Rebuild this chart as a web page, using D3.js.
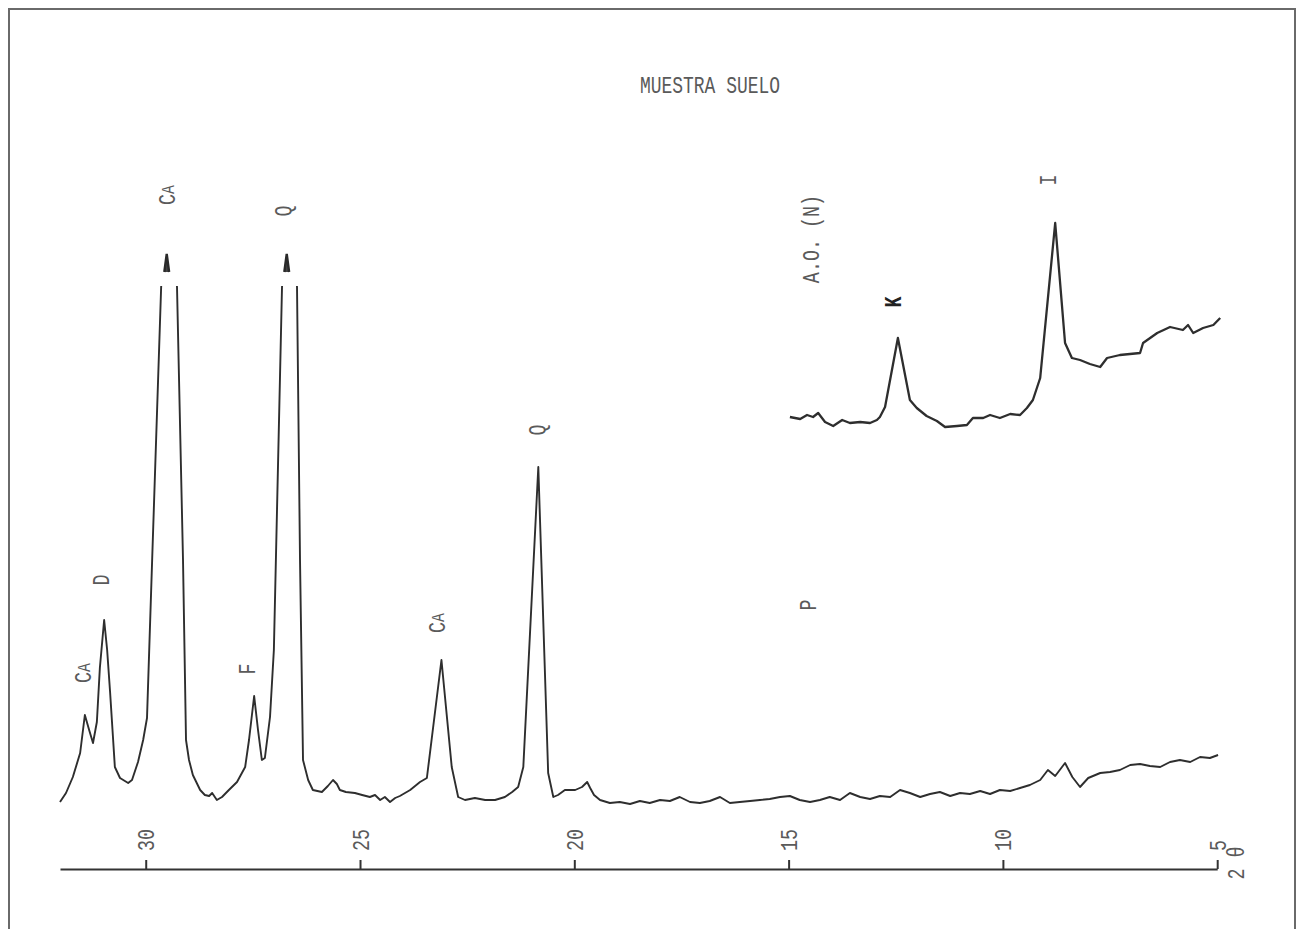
<!DOCTYPE html>
<html><head><meta charset="utf-8">
<script src="https://cdn.jsdelivr.net/npm/d3@7"></script>
<style>body{margin:0;background:#fff}svg{display:block}</style>
</head><body><svg id="c" width="1301" height="929"></svg>
<script>
// ---- data (2-theta in degrees, intensity in arbitrary counts) ----
const mainTheta = [32.00,31.86,31.70,31.53,31.42,31.32,31.23,31.14,31.07,30.97,30.90,30.83,30.76,30.72,30.60,30.41,30.32,30.18,30.06,29.97,29.85,29.64,29.46,29.27,29.13,29.06,28.99,28.90,28.73,28.62,28.52,28.45,28.34,28.22,28.06,27.87,27.68,27.59,27.47,27.38,27.29,27.22,27.10,27.01,26.82,26.66,26.47,26.40,26.33,26.21,26.10,25.89,25.75,25.63,25.54,25.47,25.33,25.12,24.95,24.77,24.65,24.53,24.42,24.30,24.18,24.07,23.83,23.60,23.44,23.10,22.86,22.71,22.55,22.32,22.08,21.85,21.62,21.45,21.31,21.19,20.84,20.61,20.49,20.38,20.22,19.98,19.82,19.70,19.63,19.54,19.40,
19.17,18.94,18.70,18.47,18.24,18.00,17.77,17.54,17.30,17.07,16.84,16.60,16.37,16.14,15.90,15.67,15.44,15.20,14.97,14.74,14.50,14.27,14.04,13.80,13.57,13.33,13.10,12.87,12.63,12.40,12.17,11.93,11.70,11.47,11.23,11.00,10.77,10.53,10.30,10.07,9.83,9.60,9.37,9.13,8.95,8.78,8.55,8.38,8.20,8.01,7.73,7.50,7.27,7.03,6.80,6.57,6.33,6.10,5.87,5.63,5.40,5.17,4.98];
const mainCounts = [67,76,92,116,154,139,126,147,201,249,219,176,129,102,91,86,89,107,129,151,309,582,680,582,309,129,109,94,79,74,73,76,69,72,79,87,102,129,173,139,109,111,152,219,582,680,582,309,109,89,79,77,83,89,85,79,77,76,74,72,74,69,72,67,71,73,79,87,91,209,102,72,69,71,69,69,72,77,82,102,402,96,72,74,79,79,82,87,81,74,69,
66,67,65,68,66,69,68,72,67,66,68,72,66,67,68,69,70,72,73,69,67,69,72,69,76,72,70,73,72,79,76,72,75,77,73,76,75,78,75,79,78,81,84,89,99,93,106,92,82,91,96,97,99,104,105,103,102,107,109,107,112,111,114];

const insetTheta = [14.97,14.73,14.57,14.43,14.31,14.15,13.96,13.75,13.57,13.33,13.10,12.94,12.87,12.75,12.45,12.17,12.01,11.78,11.54,11.35,11.07,10.84,10.70,10.46,10.30,10.07,9.83,9.60,9.44,9.30,9.13,8.78,8.55,8.39,8.20,7.97,7.73,7.57,7.27,6.80,6.73,6.40,6.10,5.80,5.68,5.56,5.33,5.09,4.93];
const insetCounts = [452,450,454,452,456,447,443,449,446,447,446,449,452,462,531,469,461,453,448,442,443,444,451,451,454,451,455,454,461,469,491,646,526,511,509,505,502,511,514,516,526,536,542,539,544,536,541,544,551];

const tickValues = [30,25,20,15,10,5];
const breakTheta = [29.51,26.71];           // peaks running off scale
const labelText  = ["CA","D","CA","Q","F","CA","Q","P","A.O. (N)","K","I"];
const labelTheta = [31.42,31.00,29.48,26.75,27.59,23.18,20.82,14.50,14.43,12.52,8.90];
const labelLevel = [196,289,674,658,200,246,439,264,630,567,689];
const title = "MUESTRA SUELO";

// ---- drawing ----
const W = 1301, H = 929;
const svg = d3.select('#c');
const x = d3.scaleLinear().domain([32,5]).range([60,1217.2]);
const y = d3.scaleLinear().domain([0,860]).range([869,9]);
const FONT = "'Liberation Mono','DejaVu Sans Mono',monospace";
const TXT = "#5a5a5a";

svg.append('rect').attr('x',9).attr('y',9).attr('width',1286).attr('height',980)
  .attr('fill','none').attr('stroke','#6a6a6a').attr('stroke-width',2);

const clipTop = y(583);
svg.append('defs').append('clipPath').attr('id','clip')
  .append('rect').attr('x',0).attr('y',clipTop).attr('width',W).attr('height',H-clipTop);

const line = d3.line().x(d=>x(d[0])).y(d=>y(d[1]));
svg.append('path').datum(d3.zip(mainTheta,mainCounts))
  .attr('d',line).attr('clip-path','url(#clip)')
  .attr('fill','none').attr('stroke','#2e2e2e').attr('stroke-width',1.9).attr('stroke-linejoin','round');
svg.append('path').datum(d3.zip(insetTheta,insetCounts))
  .attr('d',line)
  .attr('fill','none').attr('stroke','#2e2e2e').attr('stroke-width',2.3).attr('stroke-linejoin','round');

// break marks above clipped peaks
svg.selectAll('path.brk').data(breakTheta).join('path').attr('class','brk')
  .attr('d',d=>{const cx=x(d), b=clipTop-14, t=clipTop-32; return `M${cx-2.4},${b}L${cx},${t}L${cx+2.4},${b}`;})
  .attr('fill','#444').attr('stroke','#2a2a2a').attr('stroke-width',2.4).attr('stroke-linejoin','miter');

// axis
const ax = svg.append('g').attr('transform',`translate(0,${y(0)})`)
  .call(d3.axisTop(x).tickValues(tickValues).tickSize(9).tickSizeOuter(0).tickFormat(d3.format('d')));
ax.select('.domain').attr('stroke','#333').attr('stroke-width',2);
ax.selectAll('.tick line').attr('stroke','#333').attr('stroke-width',2);
ax.selectAll('.tick text')
  .attr('font-family',FONT).attr('font-size',23).attr('fill',TXT)
  .attr('transform','rotate(-90) scale(0.8,1)')
  .attr('x',22.5).attr('y',0).attr('dy','0.35em').attr('text-anchor','start');

function rotLabel(txt, cx, cy, opts={}) {
  const g = svg.append('g').attr('transform',`translate(${cx},${cy}) rotate(-90) scale(0.8,1)`);
  const t = g.append('text').attr('text-anchor','middle').attr('dominant-baseline','central')
    .attr('font-family',FONT).attr('font-size',opts.size||23).attr('fill',opts.fill||TXT)
    .attr('font-weight',opts.weight||'normal');
  if (txt === 'CA') {
    t.append('tspan').text('C');
    t.append('tspan').attr('font-size',(opts.size||23)*0.8).text('A');
  } else t.text(txt);
}
labelText.forEach((t,i)=>{
  const o = t==='K' ? {fill:'#222',weight:'bold'} : {};
  rotLabel(t, x(labelTheta[i]), y(labelLevel[i]), o);
});
// axis title (2 theta)
rotLabel('2 θ', x(5)+21, y(0)-6);

// chart title
svg.append('text').attr('x',710).attr('y',87).attr('text-anchor','middle').attr('dominant-baseline','central')
  .attr('font-family',FONT).attr('font-size',23).attr('fill',TXT)
  .attr('textLength',140).attr('lengthAdjust','spacingAndGlyphs').text(title);
</script></body></html>
